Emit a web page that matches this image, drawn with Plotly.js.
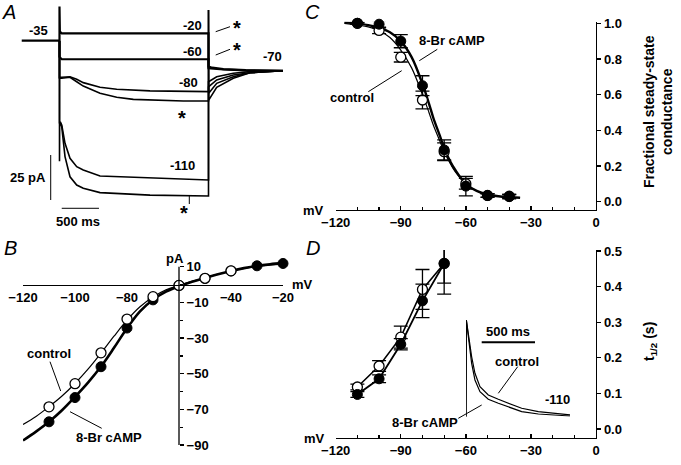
<!DOCTYPE html>
<html><head><meta charset="utf-8">
<script src="https://cdn.plot.ly/plotly-3.0.1.min.js"></script>
<style>html,body{margin:0;padding:0;background:#fff}#chart{width:681px;height:465px}</style>
</head><body><div id="chart"></div>
<script>
// ===== Panel A: current sweeps (time ms from step onset, current pA relative to holding) =====
const tHold = [-507, 0];
const iHold = [0, 0];
const tSw20 = [0, 0, 5, 30, 2000, 2000, 2050, 2200, 2500, 3000];
const iSw20 = [0, 19, 5, 4.1, 4.1, -14.4, -15.0, -15.8, -16.4, -16.7];
const tSw60 = [0, 0, 30, 2000, 2000, 2200, 2500, 3000];
const iSw60 = [0, -9, -10.3, -10.3, -15.3, -16.0, -16.5, -16.7];
const tSw80c = [0, 0, 30, 141, 231, 319, 544, 768, 1215, 1662, 2000, 2000, 2110, 2333, 2557, 2800, 3000];
const iSw80c = [0, -20.3, -20.3, -20.0, -21.4, -23.3, -25.9, -27.0, -27.9, -28.3, -28.3, -22.8, -20.0, -18.1, -17.2, -16.8, -16.7];
const tSw80b = [0, 0, 30, 141, 231, 319, 544, 768, 991, 1215, 1662, 2000, 2000, 2110, 2333, 2557, 2800, 3000];
const iSw80b = [0, -20.9, -20.9, -20.3, -22.8, -25.2, -29.2, -31.4, -32.6, -32.9, -33.5, -33.5, -25.7, -21.8, -19.1, -17.8, -17.0, -16.7];
const tSw110c = [0, 0, 15, 30, 74, 141, 231, 319, 544, 768, 1215, 2000, 2000, 2003, 2110, 2333, 2557, 2800, 3000];
const iSw110c = [0, -46, -45.5, -46.8, -57.0, -65.3, -70.0, -71.8, -75.2, -75.6, -76.1, -77.4, 17, -29.2, -23.7, -20.0, -17.8, -17.0, -16.7];
const tSw110b = [0, 0, 2, 15, 30, 74, 141, 231, 319, 544, 768, 1215, 2000, 2000, 2003, 2110, 2333, 2557, 2800, 3000];
const iSw110b = [0, -67, -46, -46, -47.8, -64.4, -75.6, -80.2, -82.0, -84.4, -84.8, -85.8, -86.3, 17, -33.0, -25.9, -20.9, -17.8, -17.0, -16.7];

// ===== Panel B: I-V relation =====
const vB_ctrl = [-110, -100, -90, -80, -70, -60, -50, -40];
const iB_ctrl = [-68.6, -55.6, -38.3, -19.4, -6.8, -0.5, 3.5, 7.7];
const vB_br = [-110, -100, -90, -80, -70, -60, -50, -40, -30, -20];
const iB_br = [-77.0, -63.4, -46.1, -24.4, -8.6, -0.5, 3.4, 7.6, 10.5, 11.8];
const vB_fit = [-120, -115, -110, -105, -100, -95, -90, -85, -80, -75, -70, -65, -60, -55, -50, -45, -40, -35, -30, -25, -20];
const iB_fitCtrl = [-78.5, -74, -68.5, -62.5, -55.5, -47.5, -38.5, -29, -20, -12.5, -7, -3, -0.5, 1.8, 3.8, 5.8, 7.6, 9, 10.1, 10.9, 11.4];
const iB_fitBr = [-87.5, -82.5, -77, -70.5, -63, -55, -46, -35.5, -24.5, -15, -8.5, -4, -1, 1.6, 3.7, 5.8, 7.6, 9.2, 10.5, 11.4, 12];

// ===== Panel C: fractional steady-state conductance =====
const vC = [-110, -100, -90, -80, -70, -60, -50, -40];
const gC_ctrl = [1.0, 0.96, 0.81, 0.57, 0.28, 0.10, 0.035, 0.03];
const eC_ctrl = [0.005, 0.018, 0.027, 0.05, 0.05, 0.03, 0.01, 0.01];
const gC_br = [1.0, 0.995, 0.90, 0.65, 0.29, 0.087, 0.034, 0.028];
const eC_br = [0.005, 0.02, 0.037, 0.056, 0.056, 0.055, 0.01, 0.012];
const vC_fit = [-116, -110, -105, -100, -95, -90, -85, -80, -77, -75, -72, -70, -67, -65, -60, -55, -50, -45, -40, -35];
const gC_fitCtrl = [1.0, 0.99, 0.98, 0.96, 0.92, 0.85, 0.75, 0.60, 0.50, 0.43, 0.34, 0.28, 0.21, 0.17, 0.10, 0.06, 0.04, 0.03, 0.025, 0.022];
const gC_fitBr = [1.005, 0.998, 0.99, 0.975, 0.95, 0.90, 0.81, 0.66, 0.55, 0.47, 0.37, 0.30, 0.22, 0.18, 0.10, 0.06, 0.04, 0.03, 0.025, 0.022];

// ===== Panel D: activation half-time =====
const vD = [-110, -100, -90, -80, -70];
const tD_ctrl = [0.118, 0.177, 0.258, 0.392, 0.465];
const eD_ctrl = [0.008, 0.015, 0.031, 0.056, 0.086];
const tD_br = [0.097, 0.141, 0.238, 0.36, 0.465];
const eD_br = [0.008, 0.011, 0.016, 0.047, 0.055];
// inset: -110 mV sweeps (ms, normalised current)
const tIns = [0, 3, 53, 84, 131, 209, 303, 428, 522, 678, 834, 975];
const iInsCtrl = [0, 1.0, 0.62, 0.449, 0.31, 0.224, 0.18, 0.131, 0.087, 0.052, 0.035, 0.018];
const iInsBr = [0, 1.0, 0.552, 0.38, 0.259, 0.18, 0.139, 0.087, 0.052, 0.028, 0.014, 0.007];

const W = 681, H = 465;
const FF = 'Liberation Sans, Arial, Helvetica, sans-serif';
const tf = {family: FF, size: 13, color: '#000', weight: 700};
const px = v => v / W, py = v => 1 - v / H;

const traces = [];
function sweep(t, i, w) {
  traces.push({x: t, y: i, xaxis: 'x', yaxis: 'y', mode: 'lines', line: {color: '#000', width: w || 1.6}, hoverinfo: 'skip'});
}
sweep(tHold, iHold, 2.2);
sweep(tSw20, iSw20, 2.2);
sweep(tSw60, iSw60, 2.2);
sweep(tSw80c, iSw80c);
sweep(tSw80b, iSw80b);
sweep(tSw110c, iSw110c);
sweep(tSw110b, iSw110b);

// B
traces.push({x: vB_fit, y: iB_fitCtrl, xaxis: 'x2', yaxis: 'y2', mode: 'lines', line: {color: '#000', width: 1.2, shape: 'spline'}});
traces.push({x: vB_fit, y: iB_fitBr, xaxis: 'x2', yaxis: 'y2', mode: 'lines', line: {color: '#000', width: 2.6, shape: 'spline'}});
traces.push({x: vB_br, y: iB_br, xaxis: 'x2', yaxis: 'y2', mode: 'markers', cliponaxis: false, marker: {symbol: 'circle', size: 10, color: '#000', line: {color: '#000', width: 1}}});
traces.push({x: vB_ctrl, y: iB_ctrl, xaxis: 'x2', yaxis: 'y2', mode: 'markers', cliponaxis: false, marker: {symbol: 'circle', size: 10, color: '#fff', line: {color: '#000', width: 1.3}}});

// C
traces.push({x: vC_fit, y: gC_fitCtrl, xaxis: 'x3', yaxis: 'y3', mode: 'lines', cliponaxis: false, line: {color: '#000', width: 1.2, shape: 'spline'}});
traces.push({x: vC_fit, y: gC_fitBr, xaxis: 'x3', yaxis: 'y3', mode: 'lines', cliponaxis: false, line: {color: '#000', width: 2.4, shape: 'spline'}});
traces.push({x: vC, y: gC_ctrl, xaxis: 'x3', yaxis: 'y3', mode: 'markers', cliponaxis: false, error_y: {type: 'data', array: eC_ctrl, color: '#000', thickness: 1.3, width: 7},
  marker: {symbol: 'circle', size: 10, color: '#fff', line: {color: '#000', width: 1.3}}});
traces.push({x: vC, y: gC_br, xaxis: 'x3', yaxis: 'y3', mode: 'markers', cliponaxis: false, error_y: {type: 'data', array: eC_br, color: '#000', thickness: 1.3, width: 7},
  marker: {symbol: 'circle', size: 10, color: '#000', line: {color: '#000', width: 1}}});

// D
traces.push({x: vD, y: tD_ctrl, xaxis: 'x4', yaxis: 'y4', mode: 'lines+markers', cliponaxis: false, line: {color: '#000', width: 1.6}, error_y: {type: 'data', array: eD_ctrl, color: '#000', thickness: 1.3, width: 7},
  marker: {symbol: 'circle', size: 10, color: '#fff', line: {color: '#000', width: 1.3}}});
traces.push({x: vD, y: tD_br, xaxis: 'x4', yaxis: 'y4', mode: 'lines+markers', cliponaxis: false, line: {color: '#000', width: 1.8}, error_y: {type: 'data', array: eD_br, color: '#000', thickness: 1.3, width: 7},
  marker: {symbol: 'circle', size: 10, color: '#000', line: {color: '#000', width: 1}}});
traces.push({x: tIns, y: iInsCtrl, xaxis: 'x5', yaxis: 'y5', mode: 'lines', line: {color: '#000', width: 1.2}});
traces.push({x: tIns, y: iInsBr, xaxis: 'x5', yaxis: 'y5', mode: 'lines', line: {color: '#000', width: 1.2}});

const axBase = {showgrid: false, zeroline: false, showline: true, linecolor: '#000', linewidth: 1.3, tickcolor: '#000', tickwidth: 1.3, tickfont: tf, fixedrange: true};

// B y scale: 1.783 px per pA, value 10 at py 266.7; range extended to 14 so end points are not clipped
const layout = {
  width: W, height: H, margin: {l: 0, r: 0, t: 0, b: 0},
  paper_bgcolor: '#fff', plot_bgcolor: 'rgba(0,0,0,0)', showlegend: false,
  font: {family: FF, size: 13, color: '#000', weight: 700},
  xaxis: {domain: [0, px(330)], range: [-798.7, 3631], visible: false, anchor: 'y', fixedrange: true},
  yaxis: {domain: [py(215), 1], range: [-96.83, 22.61], visible: false, anchor: 'x', fixedrange: true},
  xaxis2: Object.assign({}, axBase, {domain: [px(23), px(283)], range: [-120, -20], anchor: 'free', position: py(285),
    tickmode: 'array', tickvals: [-120, -100, -80, -40, -20], ticks: '', ticklen: 0}),
  yaxis2: Object.assign({}, axBase, {domain: [py(445), py(259.57)], range: [-90, 14], anchor: 'free', position: px(179), side: 'right',
    showline: false,
    tickmode: 'array', tickvals: [10, -10, -30, -50, -70, -90], ticks: 'outside', ticklen: 4,
    minor: {tickmode: 'array', tickvals: [0, -20, -40, -60, -80], ticks: 'outside', ticklen: 3, tickcolor: '#000'}}),
  xaxis3: Object.assign({}, axBase, {domain: [px(335.7), px(596)], range: [-120, 0], anchor: 'y3',
    tickmode: 'array', tickvals: [-120, -90, -60, -30, 0], ticks: 'inside', ticklen: 4,
    minor: {tickmode: 'linear', tick0: 0, dtick: 10, ticks: 'inside', ticklen: 3, tickcolor: '#000'}}),
  yaxis3: Object.assign({}, axBase, {domain: [py(210), py(21.7)], range: [-0.047, 1.009], anchor: 'x3', side: 'right',
    tickmode: 'array', tickvals: [0, 0.2, 0.4, 0.6, 0.8, 1.0], tickformat: '.1f', ticks: 'outside', ticklen: 4}),
  xaxis4: Object.assign({}, axBase, {domain: [px(335.7), px(596)], range: [-120, 0], anchor: 'y4',
    tickmode: 'array', tickvals: [-120, -90, -60, -30, 0], ticks: 'inside', ticklen: 4,
    minor: {tickmode: 'linear', tick0: 0, dtick: 10, ticks: 'inside', ticklen: 3, tickcolor: '#000'}}),
  yaxis4: Object.assign({}, axBase, {domain: [py(438), py(250)], range: [-0.0253, 0.5028], anchor: 'x4', side: 'right',
    tickmode: 'array', tickvals: [0, 0.1, 0.2, 0.3, 0.4, 0.5], tickformat: '.1f', ticks: 'outside', ticklen: 4}),
  xaxis5: {domain: [px(466), px(570)], range: [0, 975], visible: false, anchor: 'y5', fixedrange: true},
  yaxis5: {domain: [py(416.7), py(320)], range: [0, 1], visible: false, anchor: 'x5', fixedrange: true},
  annotations: [],
  shapes: []
};

function ann(text, x, y, opt) {
  layout.annotations.push(Object.assign({text: text, x: px(x), y: py(y), xref: 'paper', yref: 'paper', showarrow: false,
    xanchor: 'center', yanchor: 'middle', font: tf}, opt || {}));
}
function seg(x0, y0, x1, y1, w) {
  layout.shapes.push({type: 'line', xref: 'paper', yref: 'paper', x0: px(x0), y0: py(y0), x1: px(x1), y1: py(y1), line: {color: '#000', width: w || 1}});
}
// B vertical axis line from -90 to 10 pA at -60 mV
layout.shapes.push({type: 'line', xref: 'x2', yref: 'y2', x0: -60, x1: -60, y0: -90, y1: 10, line: {color: '#000', width: 1.3}});

const letterFont = {family: FF, size: 20, color: '#000', style: 'italic', weight: 400};
ann('A', 9, 12.5, {font: letterFont});
ann('B', 10, 247.5, {font: letterFont});
ann('C', 312, 12.5, {font: letterFont});
ann('D', 313, 247.5, {font: letterFont});

// A labels
ann('-35', 38, 31);
ann('-20', 192, 25.5);
ann('-60', 192, 51.5);
ann('-70', 272, 57);
ann('-80', 188, 83);
ann('-110', 183, 166);
ann('25 pA', 28, 177);
ann('500 ms', 78, 221);
const starF = {family: FF, size: 20, color: '#000', weight: 700};
ann('*', 237, 28, {font: starF});
ann('*', 237, 50, {font: starF});
ann('*', 182, 118, {font: starF});
ann('*', 183.5, 213, {font: starF});
seg(215.7, 31.7, 230, 26.7);
seg(215.7, 55, 230, 49.3);
seg(189.3, 195, 189.3, 204);
// A scale bars (in trace units)
layout.shapes.push({type: 'line', xref: 'x', yref: 'y', x0: -118, x1: -118, y0: -63.5, y1: -88.5, line: {color: '#000', width: 1}});
layout.shapes.push({type: 'line', xref: 'x', yref: 'y', x0: 30, x1: 530, y0: -93.1, y1: -93.1, line: {color: '#000', width: 1}});

// B labels
ann('pA', 174.5, 258);
ann('mV', 302, 284);
ann('control', 49, 353);
ann('8-Br cAMP', 109, 437);
seg(50, 361.7, 60.7, 391);
seg(70, 411.7, 101.7, 428.3);

// C labels
ann('8-Br cAMP', 452, 41);
ann('control', 352, 98);
seg(419.3, 60.7, 437.3, 49.3);
seg(368.3, 91.7, 401.7, 70.7);
ann('mV', 313, 210);
ann('Fractional steady-state<br>conductance', 658, 112, {textangle: -90, font: {family: FF, size: 14, color: '#000', weight: 700}});

// D labels
ann('mV', 314, 438);
ann('t<sub>1/2</sub> (s)', 650, 342, {textangle: -90, font: {family: FF, size: 14, color: '#000', weight: 700}});
ann('500 ms', 507.5, 331);
ann('control', 517, 361);
ann('-110', 557, 399);
ann('8-Br cAMP', 425, 422);
seg(498.3, 393.3, 517.7, 366.7);
seg(458.3, 418.3, 481.7, 405);
seg(481.7, 342.3, 535, 342.3, 2);

Plotly.newPlot('chart', traces, layout, {staticPlot: true, displayModeBar: false});
</script>
</body></html>
